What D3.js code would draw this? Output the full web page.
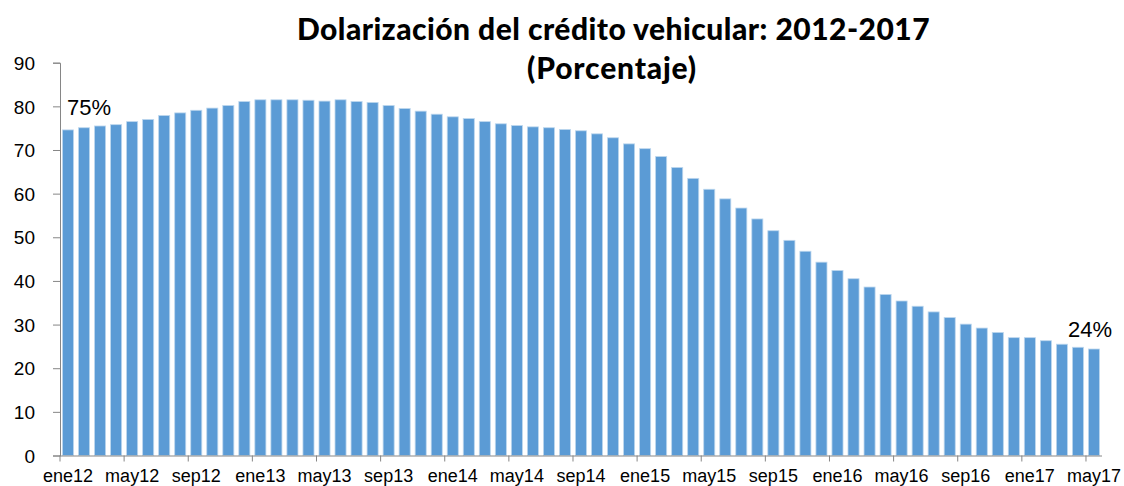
<!DOCTYPE html>
<html>
<head>
<meta charset="utf-8">
<script src="https://cdn.jsdelivr.net/npm/d3@7"></script>
<style>
  html, body { margin: 0; padding: 0; background: #fff; }
  svg { display: block; }
</style>
</head>
<body>
<svg id="chart" width="1124" height="486"></svg>
<script>
const months = ["ene","feb","mar","abr","may","jun","jul","ago","sep","oct","nov","dic"];
const years = ["12","13","14","15","16","17"];
const categories = [];
years.forEach(y => months.forEach(m => categories.push(m + y)));
categories.splice(65); // ene12 .. may17

const values = [
  74.6, 75.1, 75.5, 75.8, 76.5, 77.0, 77.9, 78.5, 79.1, 79.6, 80.2, 81.1,
  81.5, 81.5, 81.5, 81.4, 81.2, 81.5, 81.1, 80.9, 80.2, 79.5, 78.9, 78.2,
  77.6, 77.2, 76.5, 76.0, 75.6, 75.3, 75.1, 74.7, 74.4, 73.7, 72.8, 71.4,
  70.3, 68.5, 66.0, 63.5, 61.0, 58.8, 56.7, 54.2, 51.5, 49.3, 46.8, 44.3,
  42.4, 40.5, 38.6, 36.9, 35.4, 34.2, 32.9, 31.6, 30.1, 29.2, 28.2, 27.0,
  27.0, 26.3, 25.5, 24.8, 24.4
];
const yTicks = [0, 10, 20, 30, 40, 50, 60, 70, 80, 90];
const xLabelEvery = 4;
const titleLines = ["Dolarización del crédito vehicular: 2012-2017", "(Porcentaje)"];
const annotations = [
  { index: 0, text: "75%" },
  { index: 64, text: "24%" }
];

const svg = d3.select("#chart");
const mLeft = 60, mRight = 1102, mTop = 62.7, mBottom = 455.5;

const x = d3.scaleBand().domain(categories).range([mLeft, mRight]).paddingInner(0.31).paddingOuter(0.155);
const y = d3.scaleLinear().domain([0, 90]).range([mBottom, mTop]);

// Title
const title = svg.append("g")
  .attr("font-family", "Lato, 'Open Sans', sans-serif")
  .attr("font-weight", 900)
  .attr("font-size", 30)
  .attr("text-anchor", "middle")
  .attr("fill", "#000");
const t1 = title.append("text").attr("x", 613.5).attr("y", 40).text(titleLines[0]);
const t2 = title.append("text").attr("x", 612).attr("y", 79).text(titleLines[1]);
// fit widths to the reference line widths via letter spacing
[[t1, 633], [t2, 170]].forEach(([t, w]) => {
  const len = t.node().getComputedTextLength();
  const n = t.text().length;
  t.attr("letter-spacing", ((w - len) / n).toFixed(2) + "px");
});

// Bars
svg.append("g").selectAll("rect")
  .data(values)
  .join("rect")
  .attr("x", (d, i) => x(categories[i]))
  .attr("width", x.bandwidth())
  .attr("y", d => y(d))
  .attr("height", d => y(0) - y(d))
  .attr("fill", "#5B9BD5")
  .attr("stroke", "#BDD7EE")
  .attr("stroke-width", 0.8);

// Y axis
const yAxis = d3.axisLeft(y).tickValues(yTicks).tickSize(7).tickPadding(18).tickFormat(d3.format("d"));
const gy = svg.append("g").attr("transform", `translate(${mLeft},0)`).call(yAxis);
gy.select(".domain").attr("stroke", "#868686");
gy.selectAll(".tick line").attr("stroke", "#868686");
gy.selectAll(".tick text")
  .attr("font-family", "'Liberation Sans', Arial, sans-serif")
  .attr("font-size", 19)
  .attr("fill", "#000")
  .attr("dy", "0.35em");

// X axis
const xAxis = d3.axisBottom(x)
  .tickValues(categories.filter((c, i) => i % xLabelEvery === 0))
  .tickSize(0).tickPadding(9);
const gx = svg.append("g").attr("transform", `translate(0,${mBottom})`).call(xAxis);
gx.select(".domain").attr("stroke", "#868686").attr("d", `M${mLeft},0.5H${mRight}`);
gx.selectAll(".tick text")
  .attr("font-family", "'Liberation Sans', Arial, sans-serif")
  .attr("font-size", 18)
  .attr("fill", "#000")
  .attr("dy", "0.95em");
// tick marks on category boundaries every 4 categories
const step = x.step();
const boundaryIdx = d3.range(0, categories.length, xLabelEvery);
gx.selectAll(".bline")
  .data(boundaryIdx)
  .join("line")
  .attr("class", "bline")
  .attr("x1", i => mLeft + i * step)
  .attr("x2", i => mLeft + i * step)
  .attr("y1", 0)
  .attr("y2", 6)
  .attr("stroke", "#868686");

// Annotations
svg.append("g").selectAll("text")
  .data(annotations)
  .join("text")
  .attr("x", d => x(categories[d.index]) + x.bandwidth() / 2)
  .attr("dx", (d, i) => i === 0 ? -1 : -26)
  .attr("y", d => d.index === 0 ? 115 : 337)
  .attr("font-family", "'Liberation Sans', Arial, sans-serif")
  .attr("font-size", 22)
  .attr("fill", "#000")
  .attr("text-anchor", "start")
  .text(d => d.text);
</script>
</body>
</html>
